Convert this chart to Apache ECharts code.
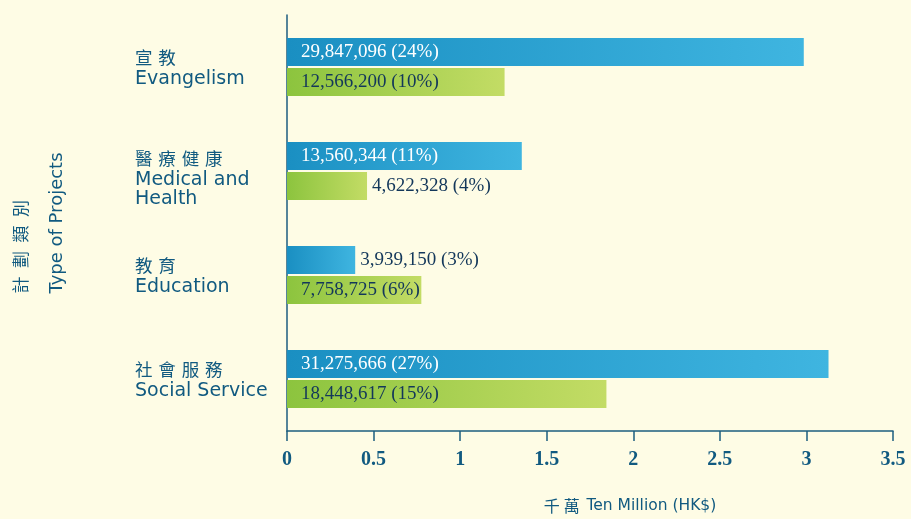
<!DOCTYPE html>
<html>
<head>
<meta charset="utf-8">
<script src="https://cdn.jsdelivr.net/npm/echarts@6/dist/echarts.min.js"></script>
<style>
  html, body { margin: 0; padding: 0; background: #fefce5; }
  #chart { width: 911px; height: 519px; }
</style>
</head>
<body>
<div id="chart"></div>
<script>
// 計劃類別 (categories)
const categoriesCn = ['宣\u2004教', '醫\u2004療\u2004健\u2004康', '教\u2004育', '社\u2004會\u2004服\u2004務'];
const categoriesEn = [['Evangelism'], ['Medical and', 'Health'], ['Education'], ['Social Service']];

// 金額 (HK$) 及百分比
const blueValues = [29847096, 13560344, 3939150, 31275666];
const bluePercents = [24, 11, 3, 27];
const greenValues = [12566200, 4622328, 7758725, 18448617];
const greenPercents = [10, 4, 6, 15];

// x 軸刻度 (千萬)
const xTicks = [0, 0.5, 1, 1.5, 2, 2.5, 3, 3.5];

const TEXT_BLUE = '#115a80';
const AXIS_COLOR = '#1d5d7f';
const DARK_LABEL = '#13375a';

function fmt(n) {
    return n.toLocaleString('en-US');
}

// 短條的數值標籤放在條外
function buildData(values, percents, insideColor) {
    return values.map((v, i) => {
        const val = v / 1e7;
        const inside = val > 0.7;
        return {
            value: val,
            label: {
                show: true,
                position: inside ? 'insideLeft' : 'right',
                distance: inside ? 14 : 5,
                color: inside ? insideColor : DARK_LABEL,
                formatter: fmt(v) + ' (' + percents[i] + '%)'
            }
        };
    });
}

function barGradient(from, to) {
    return new echarts.graphic.LinearGradient(0, 0, 1, 0, [
        { offset: 0, color: from },
        { offset: 1, color: to }
    ]);
}

const chart = echarts.init(document.getElementById('chart'), null, { renderer: 'canvas' });

const labelFont = {
    fontFamily: '"Liberation Serif", "Times New Roman", serif',
    fontSize: 19
};

chart.setOption({
    backgroundColor: '#fefce5',
    animation: false,
    grid: { left: 287, right: 18, top: 15, bottom: 82, containLabel: false },
    xAxis: {
        type: 'value',
        min: 0,
        max: 3.5,
        interval: 0.5,
        splitLine: { show: false },
        axisLine: { show: true, lineStyle: { color: AXIS_COLOR, width: 1.5 } },
        axisTick: { show: true, length: 10, lineStyle: { color: AXIS_COLOR, width: 1.5 } },
        axisLabel: {
            margin: 19,
            color: TEXT_BLUE,
            fontFamily: '"Liberation Serif", "Times New Roman", serif',
            fontWeight: 'bold',
            fontSize: 20,
            formatter: v => (xTicks.indexOf(v) >= 0 ? String(v) : '')
        },
        name: '{cn|千\u2005萬}  {en|Ten Million (HK$)}',
        nameLocation: 'middle',
        nameGap: 67,
        nameTextStyle: {
            padding: [0, 0, 0, 80],
            rich: {
                cn: { fontFamily: '"Noto Sans CJK TC"', fontSize: 16, color: TEXT_BLUE },
                en: { fontFamily: '"DejaVu Sans", sans-serif', fontSize: 15.5, color: TEXT_BLUE }
            }
        }
    },
    yAxis: {
        type: 'category',
        inverse: true,
        data: categoriesCn.map((c, i) => c + '|' + categoriesEn[i].join('|')),
        axisLine: { show: true, lineStyle: { color: AXIS_COLOR, width: 1.5 } },
        axisTick: { show: false },
        axisLabel: {
            margin: 152,
            align: 'left',
            formatter: v => {
                const parts = v.split('|');
                const lines = [];
                if (parts.length > 2) lines.push('{sp| }');
                lines.push('{cn|' + parts[0] + '}');
                parts.slice(1).forEach(p => lines.push('{en|' + p + '}'));
                return lines.join('\n');
            },
            rich: {
                sp: { fontSize: 10, lineHeight: 12 },
                cn: { fontFamily: '"Noto Sans CJK TC"', fontSize: 17.5, lineHeight: 25, color: TEXT_BLUE },
                en: { fontFamily: '"DejaVu Sans", sans-serif', fontSize: 19, lineHeight: 19, color: TEXT_BLUE }
            }
        },
        name: '{cn|計\u2002劃\u2002類\u2002別}\n{en|Type of Projects}',
        nameLocation: 'middle',
        nameGap: 212,
        nameRotate: 90,
        nameTextStyle: {
            rich: {
                cn: { fontFamily: '"Noto Sans CJK TC"', fontSize: 17, lineHeight: 36, color: TEXT_BLUE, align: 'left' },
                en: { fontFamily: '"DejaVu Sans", sans-serif', fontSize: 18, lineHeight: 36, color: TEXT_BLUE, align: 'left' }
            }
        }
    },
    series: [
        {
            name: 'blue',
            type: 'bar',
            barWidth: 28,
            barGap: '7%',
            itemStyle: { color: barGradient('#1a8fc2', '#3fb5e0') },
            label: labelFont,
            data: buildData(blueValues, bluePercents, '#ffffff')
        },
        {
            name: 'green',
            type: 'bar',
            barWidth: 28,
            barGap: '7%',
            itemStyle: { color: barGradient('#8cc43e', '#c3dc65') },
            label: labelFont,
            data: buildData(greenValues, greenPercents, DARK_LABEL)
        }
    ]
});
</script>
</body>
</html>
